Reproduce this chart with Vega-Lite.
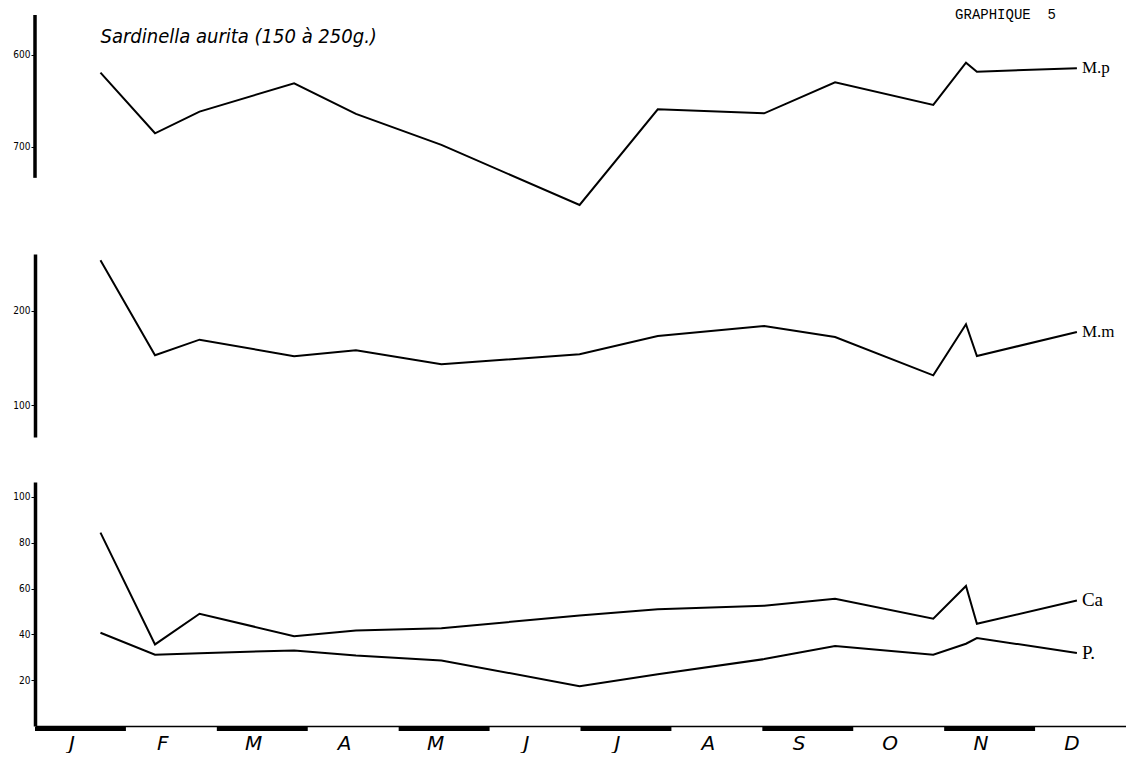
{
  "$schema": "https://vega.github.io/schema/vega-lite/v6.json",
  "background": "white",
  "padding": {"left": 12, "top": 8, "right": 0, "bottom": 0},
  "spacing": 45,
  "config": {
    "view": {"stroke": null},
    "axis": {"grid": false, "domainColor": "black", "tickColor": "black", "labelColor": "black"}
  },
  "datasets": {
    "courbes": [
      {"serie": "M.p", "panneau": "haut", "mois": 0.72, "valeur": 619.3},
      {"serie": "M.p", "panneau": "haut", "mois": 1.32, "valeur": 685.4},
      {"serie": "M.p", "panneau": "haut", "mois": 1.81, "valeur": 661.8},
      {"serie": "M.p", "panneau": "haut", "mois": 2.85, "valeur": 630.9},
      {"serie": "M.p", "panneau": "haut", "mois": 3.53, "valeur": 664.3},
      {"serie": "M.p", "panneau": "haut", "mois": 4.47, "valeur": 698.1},
      {"serie": "M.p", "panneau": "haut", "mois": 5.99, "valeur": 763.6},
      {"serie": "M.p", "panneau": "haut", "mois": 6.85, "valeur": 659.2},
      {"serie": "M.p", "panneau": "haut", "mois": 8.02, "valeur": 663.6},
      {"serie": "M.p", "panneau": "haut", "mois": 8.8, "valeur": 629.8},
      {"serie": "M.p", "panneau": "haut", "mois": 9.88, "valeur": 654.5},
      {"serie": "M.p", "panneau": "haut", "mois": 10.24, "valeur": 608.4},
      {"serie": "M.p", "panneau": "haut", "mois": 10.36, "valeur": 618.2},
      {"serie": "M.p", "panneau": "haut", "mois": 11.46, "valeur": 614.5},
      {"serie": "M.m", "panneau": "milieu", "mois": 0.72, "valeur": 253.9},
      {"serie": "M.m", "panneau": "milieu", "mois": 1.32, "valeur": 152.9},
      {"serie": "M.m", "panneau": "milieu", "mois": 1.81, "valeur": 169.5},
      {"serie": "M.m", "panneau": "milieu", "mois": 2.85, "valeur": 151.8},
      {"serie": "M.m", "panneau": "milieu", "mois": 3.53, "valeur": 158.2},
      {"serie": "M.m", "panneau": "milieu", "mois": 4.47, "valeur": 143.3},
      {"serie": "M.m", "panneau": "milieu", "mois": 5.99, "valeur": 153.9},
      {"serie": "M.m", "panneau": "milieu", "mois": 6.85, "valeur": 173.4},
      {"serie": "M.m", "panneau": "milieu", "mois": 8.02, "valeur": 184.0},
      {"serie": "M.m", "panneau": "milieu", "mois": 8.8, "valeur": 172.3},
      {"serie": "M.m", "panneau": "milieu", "mois": 9.88, "valeur": 131.6},
      {"serie": "M.m", "panneau": "milieu", "mois": 10.24, "valeur": 185.9},
      {"serie": "M.m", "panneau": "milieu", "mois": 10.36, "valeur": 152.1},
      {"serie": "M.m", "panneau": "milieu", "mois": 11.46, "valeur": 177.7},
      {"serie": "Ca", "panneau": "bas", "mois": 0.72, "valeur": 84.4},
      {"serie": "Ca", "panneau": "bas", "mois": 1.32, "valeur": 35.6},
      {"serie": "Ca", "panneau": "bas", "mois": 1.81, "valeur": 49.0},
      {"serie": "Ca", "panneau": "bas", "mois": 2.85, "valeur": 39.2},
      {"serie": "Ca", "panneau": "bas", "mois": 3.53, "valeur": 41.7},
      {"serie": "Ca", "panneau": "bas", "mois": 4.47, "valeur": 42.7},
      {"serie": "Ca", "panneau": "bas", "mois": 5.99, "valeur": 48.2},
      {"serie": "Ca", "panneau": "bas", "mois": 6.85, "valeur": 51.0},
      {"serie": "Ca", "panneau": "bas", "mois": 8.02, "valeur": 52.5},
      {"serie": "Ca", "panneau": "bas", "mois": 8.8, "valeur": 55.5},
      {"serie": "Ca", "panneau": "bas", "mois": 9.88, "valeur": 46.8},
      {"serie": "Ca", "panneau": "bas", "mois": 10.24, "valeur": 61.1},
      {"serie": "Ca", "panneau": "bas", "mois": 10.36, "valeur": 44.6},
      {"serie": "Ca", "panneau": "bas", "mois": 11.46, "valeur": 54.8},
      {"serie": "P.", "panneau": "bas", "mois": 0.72, "valeur": 40.7},
      {"serie": "P.", "panneau": "bas", "mois": 1.32, "valeur": 31.1},
      {"serie": "P.", "panneau": "bas", "mois": 1.81, "valeur": 31.8},
      {"serie": "P.", "panneau": "bas", "mois": 2.85, "valeur": 33.0},
      {"serie": "P.", "panneau": "bas", "mois": 3.53, "valeur": 30.8},
      {"serie": "P.", "panneau": "bas", "mois": 4.47, "valeur": 28.6},
      {"serie": "P.", "panneau": "bas", "mois": 5.99, "valeur": 17.4},
      {"serie": "P.", "panneau": "bas", "mois": 6.85, "valeur": 22.6},
      {"serie": "P.", "panneau": "bas", "mois": 8.02, "valeur": 29.2},
      {"serie": "P.", "panneau": "bas", "mois": 8.8, "valeur": 34.9},
      {"serie": "P.", "panneau": "bas", "mois": 9.88, "valeur": 31.1},
      {"serie": "P.", "panneau": "bas", "mois": 10.24, "valeur": 35.9},
      {"serie": "P.", "panneau": "bas", "mois": 10.36, "valeur": 38.4},
      {"serie": "P.", "panneau": "bas", "mois": 11.46, "valeur": 31.9}
    ],
    "segments": [
      {"debut": 0, "fin": 1},
      {"debut": 2, "fin": 3},
      {"debut": 4, "fin": 5},
      {"debut": 6, "fin": 7},
      {"debut": 8, "fin": 9},
      {"debut": 10, "fin": 11}
    ]
  },
  "vconcat": [
    {
      "width": 1091,
      "height": 192,
      "layer": [
        {
          "data": {"name": "courbes"},
          "transform": [{"filter": "datum.panneau == 'haut'"}],
          "mark": {"type": "line", "color": "black", "strokeWidth": 2},
          "encoding": {
            "x": {"field": "mois", "type": "quantitative", "scale": {"domain": [0, 12], "nice": false}, "axis": null},
            "y": {"field": "valeur", "type": "quantitative",
                  "scale": {"domain": [556.4, 765.8], "reverse": true, "nice": false, "zero": false},
                  "axis": {"values": [600, 700], "title": null, "domain": false, "tickSize": 4, "tickWidth": 1, "labelFontSize": 10, "labelFont": "DejaVu Sans Condensed", "labelPadding": 1}},
            "detail": {"field": "serie"}
          }
        },
        {
          "data": {"values": [{}]},
          "mark": {"type": "rule", "color": "black", "strokeWidth": 3.5},
          "encoding": {
            "x": {"datum": 0},
            "y": {"datum": 556.4},
            "y2": {"datum": 734}
          }
        },
        {
          "data": {"name": "courbes"},
          "transform": [
            {"filter": "datum.panneau == 'haut'"},
            {"joinaggregate": [{"op": "max", "field": "mois", "as": "dernier"}], "groupby": ["serie"]},
            {"filter": "datum.mois == datum.dernier"}
          ],
          "mark": {"type": "text", "align": "left", "baseline": "middle", "dx": 5, "font": "Liberation Serif", "fontSize": 17, "color": "black"},
          "encoding": {
            "x": {"field": "mois", "type": "quantitative"},
            "y": {"field": "valeur", "type": "quantitative"},
            "text": {"field": "serie"}
          }
        },
        {
          "data": {"values": [{}]},
          "mark": {"type": "text", "align": "left", "baseline": "middle", "font": "DejaVu Sans Condensed", "fontStyle": "italic", "fontSize": 20, "color": "black"},
          "encoding": {
            "x": {"datum": 0.72},
            "y": {"datum": 580},
            "text": {"value": "Sardinella aurita (150 à 250g.)"}
          }
        },
        {
          "data": {"values": [{}]},
          "mark": {"type": "text", "align": "left", "baseline": "middle", "font": "Liberation Mono", "fontSize": 14, "color": "black"},
          "encoding": {
            "x": {"datum": 10.12},
            "y": {"datum": 556.4},
            "text": {"value": "GRAPHIQUE\u00a0\u00a05"}
          }
        }
      ]
    },
    {
      "width": 1091,
      "height": 183,
      "layer": [
        {
          "data": {"name": "courbes"},
          "transform": [{"filter": "datum.panneau == 'milieu'"}],
          "mark": {"type": "line", "color": "black", "strokeWidth": 2},
          "encoding": {
            "x": {"field": "mois", "type": "quantitative", "scale": {"domain": [0, 12], "nice": false}, "axis": null},
            "y": {"field": "valeur", "type": "quantitative",
                  "scale": {"domain": [66, 260.6], "nice": false, "zero": false},
                  "axis": {"values": [100, 200], "title": null, "domainWidth": 3.5, "tickSize": 4, "tickWidth": 1, "labelFontSize": 10, "labelFont": "DejaVu Sans Condensed", "labelPadding": 1}},
            "detail": {"field": "serie"}
          }
        },
        {
          "data": {"name": "courbes"},
          "transform": [
            {"filter": "datum.panneau == 'milieu'"},
            {"joinaggregate": [{"op": "max", "field": "mois", "as": "dernier"}], "groupby": ["serie"]},
            {"filter": "datum.mois == datum.dernier"}
          ],
          "mark": {"type": "text", "align": "left", "baseline": "middle", "dx": 5, "font": "Liberation Serif", "fontSize": 17, "color": "black"},
          "encoding": {
            "x": {"field": "mois", "type": "quantitative"},
            "y": {"field": "valeur", "type": "quantitative"},
            "text": {"field": "serie"}
          }
        }
      ]
    },
    {
      "width": 1091,
      "height": 244,
      "layer": [
        {
          "data": {"name": "courbes"},
          "transform": [{"filter": "datum.panneau == 'bas'"}],
          "mark": {"type": "line", "color": "black", "strokeWidth": 2},
          "encoding": {
            "x": {"field": "mois", "type": "quantitative", "scale": {"domain": [0, 12], "nice": false},
                  "axis": {"values": [0.4, 1.4, 2.4, 3.4, 4.4, 5.4, 6.4, 7.4, 8.4, 9.4, 10.4, 11.4],
                           "labelExpr": "['J','F','M','A','M','J','J','A','S','O','N','D'][round(datum.value - 0.4)]",
                           "title": null, "ticks": false, "domainWidth": 1.5, "labelFontSize": 20, "labelFontStyle": "italic", "labelFont": "DejaVu Sans", "labelPadding": 7, "labelOverlap": false, "labelFlush": false}},
            "y": {"field": "valeur", "type": "quantitative",
                  "scale": {"domain": [0, 106.5], "nice": false, "zero": false},
                  "axis": {"values": [20, 40, 60, 80, 100], "title": null, "domainWidth": 3.5, "tickSize": 4, "tickWidth": 1, "labelFontSize": 10, "labelFont": "DejaVu Sans Condensed", "labelPadding": 1}},
            "detail": {"field": "serie"}
          }
        },
        {
          "data": {"name": "courbes"},
          "transform": [
            {"filter": "datum.panneau == 'bas'"},
            {"joinaggregate": [{"op": "max", "field": "mois", "as": "dernier"}], "groupby": ["serie"]},
            {"filter": "datum.mois == datum.dernier"}
          ],
          "mark": {"type": "text", "align": "left", "baseline": "middle", "dx": 5, "font": "Liberation Serif", "fontSize": 19, "color": "black"},
          "encoding": {
            "x": {"field": "mois", "type": "quantitative"},
            "y": {"field": "valeur", "type": "quantitative"},
            "text": {"field": "serie"}
          }
        },
        {
          "data": {"name": "segments"},
          "mark": {"type": "rule", "strokeWidth": 4, "color": "black", "yOffset": 3},
          "encoding": {
            "x": {"field": "debut", "type": "quantitative"},
            "x2": {"field": "fin"},
            "y": {"datum": 0}
          }
        }
      ]
    }
  ]
}
